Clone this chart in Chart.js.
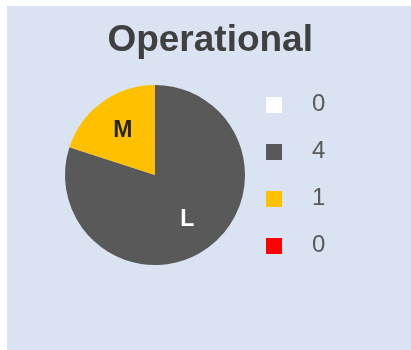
<!DOCTYPE html>
<html>
<head>
<meta charset="utf-8">
<script src="https://cdn.jsdelivr.net/npm/chart.js@4"></script>
<style>
  html, body { margin: 0; padding: 0; background: #ffffff; }
  #panel {
    position: absolute; left: 7px; top: 6px;
    width: 404px; height: 344px;
    background: #dae3f2;
  }
  canvas { display: block; }
</style>
</head>
<body>
<div id="panel"><canvas id="c" width="404" height="344"></canvas></div>
<script>
// Risk levels and how many items fall in each
const categories = ['N', 'L', 'M', 'H'];
const counts = [0, 4, 1, 0];
const sliceColors = ['#ffffff', '#595959', '#ffc000', '#ff0000'];
const sliceLabelColors = ['#262626', '#ffffff', '#262626', '#ffffff'];
const chartTitle = 'Operational';

const FONT = "'Liberation Sans', Arial, Helvetica, sans-serif";

// small solid squares used as legend markers
function squareMarker(color) {
  const cv = document.createElement('canvas');
  cv.width = 16; cv.height = 16;
  const g = cv.getContext('2d');
  g.fillStyle = color;
  g.fillRect(0, 0, 16, 16);
  return cv;
}

// writes the category letter inside each non-empty slice
const sliceLetters = {
  id: 'sliceLetters',
  afterDatasetsDraw(chart) {
    const ctx = chart.ctx;
    const meta = chart.getDatasetMeta(0);
    ctx.save();
    ctx.font = 'bold 23px ' + FONT;
    ctx.textAlign = 'center';
    ctx.textBaseline = 'middle';
    meta.data.forEach((arc, i) => {
      if (!counts[i]) return;
      const p = arc.getProps(['x', 'y', 'startAngle', 'endAngle', 'outerRadius'], true);
      const mid = (p.startAngle + p.endAngle) / 2;
      const r = p.outerRadius * 0.61;
      ctx.fillStyle = sliceLabelColors[i];
      ctx.fillText(categories[i], p.x + Math.cos(mid) * r, p.y + Math.sin(mid) * r);
    });
    ctx.restore();
  }
};

new Chart(document.getElementById('c'), {
  type: 'pie',
  data: {
    labels: categories,
    datasets: [{
      data: counts,
      backgroundColor: sliceColors,
      borderWidth: 0,
      radius: 90,
      clip: false
    }]
  },
  options: {
    responsive: false,
    animation: false,
    events: [],
    layout: { padding: { left: 78, right: 75.65, top: 0, bottom: 69 } },
    plugins: {
      tooltip: { enabled: false },
      title: {
        display: true,
        text: chartTitle,
        color: '#404040',
        font: { family: FONT, size: 37, weight: 'bold', lineHeight: 1.2 },
        padding: { top: 13, bottom: 5.6 }
      },
      legend: {
        position: 'right',
        align: 'center',
        fullSize: false,
        labels: {
          usePointStyle: true,
          pointStyleWidth: 52,
          padding: 23,
          color: '#595959',
          font: { family: FONT, size: 24 },
          generateLabels(chart) {
            const ds = chart.data.datasets[0];
            return ds.data.map((v, i) => ({
              text: String(v),
              fillStyle: ds.backgroundColor[i],
              strokeStyle: ds.backgroundColor[i],
              lineWidth: 0,
              fontColor: '#595959',
              pointStyle: squareMarker(ds.backgroundColor[i]),
              hidden: false,
              index: i
            }));
          }
        }
      }
    }
  },
  plugins: [sliceLetters]
});
</script>
</body>
</html>
